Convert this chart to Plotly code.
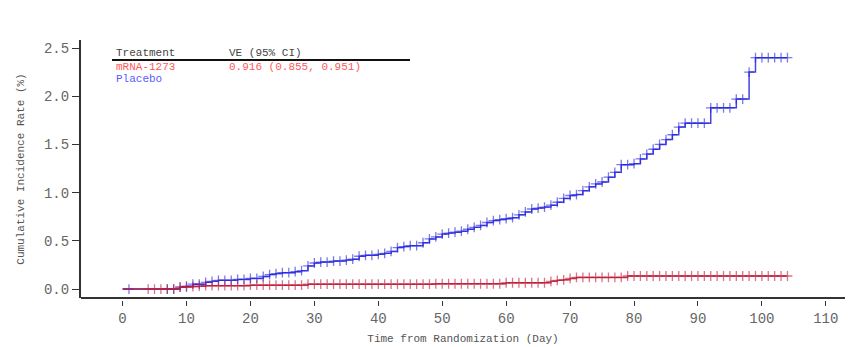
import plotly.graph_objects as go

# Kaplan-Meier style cumulative incidence (%) by day, one value per censor mark
placebo_days = [1, 7, 8, 9, 10, 11, 12, 13, 14, 15, 16, 17, 18, 19, 20, 21, 22, 23, 24, 25,
                26, 27, 28, 29, 30, 31, 32, 33, 34, 35, 36, 37, 38, 39, 40, 41, 42, 43, 44, 45,
                46, 47, 48, 49, 50, 51, 52, 53, 54, 55, 56, 57, 58, 59, 60, 61, 62, 63, 64, 65,
                66, 67, 68, 69, 70, 71, 72, 73, 74, 75, 76, 77, 78, 79, 80, 81, 82, 83, 84, 85,
                86, 87, 88, 89, 90, 91, 92, 93, 94, 95, 96, 97, 98, 99, 100, 101, 102, 103, 104]
placebo_rate = [0.00, 0.00, 0.00, 0.02, 0.03, 0.05, 0.05, 0.07, 0.08, 0.09, 0.09, 0.09, 0.10, 0.10, 0.11, 0.11, 0.13, 0.15, 0.16, 0.17,
                0.17, 0.18, 0.19, 0.24, 0.27, 0.28, 0.28, 0.29, 0.29, 0.30, 0.31, 0.34, 0.35, 0.35, 0.36, 0.37, 0.39, 0.43, 0.44, 0.45,
                0.45, 0.48, 0.52, 0.54, 0.57, 0.58, 0.59, 0.60, 0.62, 0.64, 0.66, 0.69, 0.71, 0.72, 0.73, 0.74, 0.77, 0.80, 0.83, 0.84,
                0.85, 0.87, 0.90, 0.94, 0.97, 0.98, 1.02, 1.06, 1.09, 1.11, 1.16, 1.21, 1.29, 1.29, 1.30, 1.35, 1.40, 1.45, 1.50, 1.55,
                1.60, 1.68, 1.72, 1.72, 1.72, 1.72, 1.88, 1.88, 1.88, 1.88, 1.97, 1.97, 2.25, 2.40, 2.40, 2.40, 2.40, 2.40, 2.40]

mrna_days = [4, 5, 6, 7, 8, 9, 10, 11, 12, 13, 14, 15, 16, 17, 18, 19, 20, 21, 22, 23,
             24, 25, 26, 27, 28, 29, 30, 31, 32, 33, 34, 35, 36, 37, 38, 39, 40, 41, 42, 43,
             44, 45, 46, 47, 48, 49, 50, 51, 52, 53, 54, 55, 56, 57, 58, 59, 60, 61, 62, 63,
             64, 65, 66, 67, 68, 69, 70, 71, 72, 73, 74, 75, 76, 77, 78, 79, 80, 81, 82, 83,
             84, 85, 86, 87, 88, 89, 90, 91, 92, 93, 94, 95, 96, 97, 98, 99, 100, 101, 102, 103, 104]
mrna_rate = [0.00, 0.00, 0.00, 0.00, 0.00, 0.02, 0.02, 0.025, 0.03, 0.035, 0.035, 0.035, 0.035, 0.035, 0.035, 0.035, 0.04, 0.04, 0.04, 0.04,
             0.04, 0.04, 0.04, 0.04, 0.04, 0.05, 0.05, 0.05, 0.05, 0.05, 0.05, 0.05, 0.05, 0.05, 0.05, 0.05, 0.05, 0.05, 0.05, 0.05,
             0.05, 0.05, 0.05, 0.05, 0.05, 0.055, 0.055, 0.055, 0.055, 0.055, 0.055, 0.055, 0.055, 0.055, 0.055, 0.055, 0.065, 0.065, 0.065, 0.065,
             0.065, 0.065, 0.065, 0.08, 0.09, 0.095, 0.11, 0.12, 0.12, 0.12, 0.12, 0.12, 0.12, 0.12, 0.12, 0.135, 0.135, 0.135, 0.135, 0.135,
             0.135, 0.135, 0.135, 0.135, 0.135, 0.135, 0.135, 0.135, 0.135, 0.135, 0.135, 0.135, 0.135, 0.135, 0.135, 0.135, 0.135, 0.135, 0.135, 0.135, 0.135]

x_ticks = [0, 10, 20, 30, 40, 50, 60, 70, 80, 90, 100, 110]
y_ticks = [0.0, 0.5, 1.0, 1.5, 2.0, 2.5]

header = ["Treatment", "VE (95% CI)"]
arm_names = ["mRNA-1273", "Placebo"]
ve_text = "0.916 (0.855, 0.951)"

FONT = "Liberation Mono, Courier New, monospace"
BLUE_LINE = "rgba(35,35,220,0.85)"
RED_LINE = "rgba(190,25,55,0.85)"

# geometry of the plotting area in pixels
W, H = 851, 347
L, R, T, B = 81, 845, 40, 300
AXIS_BOTTOM = 298


def px(xp):
    return (xp - L) / (R - L)


def py(yp):
    return (B - yp) / (B - T)


fig = go.Figure()


def km_trace(days, rate, color):
    return go.Scatter(
        x=[0] + days, y=[0.0] + rate,
        mode="lines+markers",
        line=dict(color=color, width=1.5, shape="hv"),
        marker=dict(symbol="cross-thin", size=[0] + [7] * len(days),
                    line=dict(color=color, width=1.3)),
        showlegend=False, hoverinfo="skip",
    )


fig.add_trace(km_trace(placebo_days, placebo_rate, BLUE_LINE))
fig.add_trace(km_trace(mrna_days, mrna_rate, RED_LINE))

ydom0 = py(AXIS_BOTTOM)
y_lo = -0.093
y_hi = 2.583

fig.update_layout(
    width=W, height=H,
    margin=dict(l=L, r=W - R, t=T, b=H - B),
    paper_bgcolor="white", plot_bgcolor="white",
    font=dict(family=FONT, color="#666666"),
    xaxis=dict(
        range=[-6.5, 113.0], tickvals=x_ticks, ticktext=[str(v) for v in x_ticks],
        anchor="free", position=0, showline=False, showgrid=False, zeroline=False,
        automargin=False,
        ticks="outside", ticklen=5, tickwidth=1, tickcolor="#333333",
        tickfont=dict(family=FONT, size=14, color="#666666"),
        title=dict(text="Time from Randomization (Day)", standoff=8,
                   font=dict(family=FONT, size=11, color="#555555")),
    ),
    yaxis=dict(
        domain=[ydom0, 1], range=[y_lo, y_hi], tickvals=y_ticks,
        ticktext=[f"{v:.1f}" for v in y_ticks], automargin=False,
        showline=True, linecolor="#333333", linewidth=2, showgrid=False, zeroline=False,
        ticks="outside", ticklen=7, tickwidth=1, tickcolor="#333333",
        tickfont=dict(family=FONT, size=14, color="#666666"),
        title=dict(text="Cumulative Incidence Rate (%)", standoff=17,
                   font=dict(family=FONT, size=11, color="#555555")),
    ),
)

# bottom frame line of the plotting area
fig.add_shape(type="line", xref="paper", yref="paper", x0=0, x1=1, y0=ydom0, y1=ydom0,
              line=dict(color="#333333", width=2))

# treatment / VE table in the upper-left corner
fig.add_shape(type="line", xref="paper", yref="paper", x0=px(112), x1=px(410),
              y0=py(60), y1=py(60), line=dict(color="#111111", width=2))


def table_text(text, xpix, ypix, color):
    fig.add_annotation(text=text, xref="paper", yref="paper", x=px(xpix), y=py(ypix),
                       xanchor="left", yanchor="middle", showarrow=False,
                       font=dict(family=FONT, size=11, color=color))


table_text(header[0], 114, 53, "#444444")
table_text(header[1], 227, 53, "#444444")
table_text(arm_names[0], 114, 67, "#ff5a5a")
table_text(ve_text, 227, 67, "#ff5a5a")
table_text(arm_names[1], 114, 79, "#5a5aff")

fig.write_html("out.html")
